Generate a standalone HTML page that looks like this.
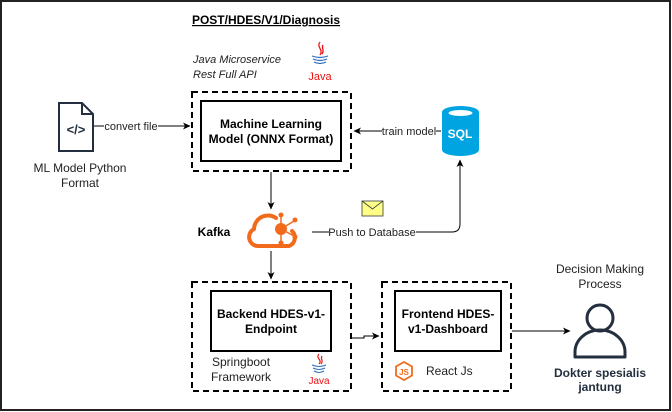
<!DOCTYPE html>
<html><head><style>
body{margin:0;width:672px;height:412px;background:#fff;overflow:hidden;font-family:"Liberation Sans",sans-serif;}
svg{display:block}
text{font-family:"Liberation Sans",sans-serif;}
</style></head><body>
<svg width="672" height="412" viewBox="0 0 672 412">
<defs><marker id="a" markerWidth="8" markerHeight="8" refX="7" refY="4" orient="auto" markerUnits="userSpaceOnUse"><path d="M0,0.5 L7.5,4 L0,7.5 L2,4Z" fill="#000"/></marker></defs>
<rect x="1" y="1" width="669" height="409" fill="none" stroke="#222" stroke-width="2"/>
<text x="266" y="24" font-size="12" font-weight="bold" text-anchor="middle" text-decoration="underline">POST/HDES/V1/Diagnosis</text>
<text x="193" y="63" font-size="11" font-style="italic" fill="#222">Java Microservice</text>
<text x="193" y="78" font-size="11" font-style="italic" fill="#222">Rest Full API</text>
<!-- java logo 1 -->
<g transform="translate(320,42)">
<path d="M0,0 C-4,5 4,8 0,13 M3,3 C1,6 5,8 2,12" stroke="#e11" fill="none" stroke-width="1.3"/>
<path d="M-8,14 Q0,17 8,14 M-7,17 Q0,20 7,17 M-6,20 Q0,23 6,20" stroke="#2a6ebb" fill="none" stroke-width="1.2"/>
<text x="0" y="38" font-size="11" fill="#e11" text-anchor="middle">Java</text>
</g>
<!-- box1 -->
<rect x="192" y="92" width="159" height="79" fill="none" stroke="#000" stroke-width="2" stroke-dasharray="6,4"/>
<rect x="201" y="101" width="140" height="60" fill="#fff" stroke="#000" stroke-width="2"/>
<text x="271" y="128" font-size="12" font-weight="bold" text-anchor="middle">Machine Learning</text>
<text x="271" y="143" font-size="12" font-weight="bold" text-anchor="middle">Model (ONNX Format)</text>
<!-- doc icon -->
<path d="M59,103 H82 L93,114 V151 H59 Z" fill="none" stroke="#232f3e" stroke-width="2"/>
<path d="M82,103 V114 H93" fill="none" stroke="#232f3e" stroke-width="2"/>
<text x="76" y="134" font-size="13" font-weight="bold" fill="#232f3e" text-anchor="middle">&lt;/&gt;</text>
<text x="80" y="172" font-size="12" text-anchor="middle" fill="#222">ML Model Python</text>
<text x="80" y="187" font-size="12" text-anchor="middle" fill="#222">Format</text>
<line x1="94" y1="126" x2="190" y2="126" stroke="#000" marker-end="url(#a)"/>
<rect x="104" y="119" width="54" height="13" fill="#fff"/>
<text x="131" y="130" font-size="11" text-anchor="middle" fill="#222">convert file</text>
<!-- SQL -->
<path d="M442,112 V150 A18.5,6 0 0 0 479,150 V112" fill="#00a4e0"/>
<ellipse cx="460.5" cy="112" rx="18.5" ry="6" fill="#00a4e0"/>
<ellipse cx="460.5" cy="113" rx="12" ry="3" fill="#fff"/>
<text x="460" y="138" font-size="12" font-weight="bold" fill="#fff" text-anchor="middle">SQL</text>
<line x1="441" y1="131" x2="354" y2="131" stroke="#000" marker-end="url(#a)"/>
<rect x="382" y="124" width="54" height="13" fill="#fff"/>
<text x="409" y="135" font-size="11" text-anchor="middle" fill="#222">train model</text>
<!-- kafka -->
<line x1="271" y1="172" x2="271" y2="209" stroke="#000" marker-end="url(#a)"/>
<text x="214" y="236" font-size="12" font-weight="bold" text-anchor="middle">Kafka</text>
<path d="M258,246 H289 A9,9 0 0 0 292,231 M258,246 A9,9 0 0 1 254,229 A14,14 0 0 1 276,218" fill="none" stroke="#f26b1d" stroke-width="4" stroke-linecap="round"/>
<circle cx="281" cy="229" r="6" fill="#f26b1d"/>
<g stroke="#f26b1d" stroke-width="1.5"><line x1="281" y1="229" x2="281" y2="215"/><line x1="281" y1="229" x2="294" y2="221"/><line x1="281" y1="229" x2="294" y2="236"/><line x1="281" y1="229" x2="281" y2="242"/></g>
<g fill="#f26b1d"><circle cx="281" cy="215" r="2.5"/><circle cx="295" cy="220" r="2.5"/><circle cx="295" cy="237" r="2.5"/><circle cx="281" cy="243" r="2.5"/></g>
<path d="M312,232 H452 Q460,232 460,224 V160" fill="none" stroke="#000" marker-end="url(#a)"/>
<rect x="329" y="225" width="87" height="13" fill="#fff"/>
<text x="372" y="236" font-size="11" text-anchor="middle" fill="#222">Push to Database</text>
<rect x="362" y="201" width="21" height="15" fill="#ffff88" stroke="#36393d" stroke-width="0.8"/>
<path d="M362,201 L372.5,209 L383,201" fill="none" stroke="#36393d" stroke-width="0.8"/>
<line x1="271" y1="251" x2="271" y2="279" stroke="#000" marker-end="url(#a)"/>
<!-- box2 -->
<rect x="192" y="282" width="159" height="109" fill="none" stroke="#000" stroke-width="2" stroke-dasharray="6,4"/>
<rect x="211" y="291" width="120" height="60" fill="#fff" stroke="#000" stroke-width="2"/>
<text x="271" y="318" font-size="12" font-weight="bold" text-anchor="middle">Backend HDES-v1-</text>
<text x="271" y="333" font-size="12" font-weight="bold" text-anchor="middle">Endpoint</text>
<text x="212" y="366" font-size="12" fill="#222">Springboot</text>
<text x="211" y="381" font-size="12" fill="#222">Framework</text>
<g transform="translate(319,354)">
<path d="M0,0 C-4,4 4,6 0,10 M3,2 C1,5 5,7 2,10" stroke="#e11" fill="none" stroke-width="1.2"/>
<path d="M-7,11 Q0,14 7,11 M-6,14 Q0,17 6,14 M-5,17 Q0,20 5,17" stroke="#2a6ebb" fill="none" stroke-width="1.1"/>
<text x="0" y="30" font-size="10" fill="#e11" text-anchor="middle">Java</text>
</g>
<!-- box3 -->
<rect x="382" y="282" width="129" height="109" fill="none" stroke="#000" stroke-width="2" stroke-dasharray="6,4"/>
<rect x="395" y="291" width="106" height="60" fill="#fff" stroke="#000" stroke-width="2"/>
<text x="448" y="318" font-size="12" font-weight="bold" text-anchor="middle">Frontend HDES-</text>
<text x="448" y="333" font-size="12" font-weight="bold" text-anchor="middle">v1-Dashboard</text>
<path d="M404,362 L412,366.5 V375.5 L404,380 L396,375.5 V366.5 Z" fill="none" stroke="#f26b1d" stroke-width="1.8"/>
<text x="404" y="375" font-size="8" font-weight="bold" fill="#f26b1d" text-anchor="middle">JS</text>
<text x="426" y="375" font-size="12" fill="#222">React Js</text>
<path d="M352,338 H364 V336 H379" fill="none" stroke="#000" marker-end="url(#a)"/>
<path d="M512,331 H570" fill="none" stroke="#000" marker-end="url(#a)"/>
<!-- person -->
<text x="600" y="273" font-size="12" text-anchor="middle" fill="#222">Decision Making</text>
<text x="600" y="288" font-size="12" text-anchor="middle" fill="#222">Process</text>
<circle cx="600" cy="318" r="13" fill="none" stroke="#232f3e" stroke-width="3"/>
<path d="M575,357 V352 A25,22 0 0 1 625,352 V357 Z" fill="none" stroke="#232f3e" stroke-width="3" stroke-linejoin="round"/>
<text x="600" y="377" font-size="12" font-weight="bold" fill="#232f3e" text-anchor="middle">Dokter spesialis</text>
<text x="600" y="391" font-size="12" font-weight="bold" fill="#232f3e" text-anchor="middle">jantung</text>
</svg>
</body></html>
